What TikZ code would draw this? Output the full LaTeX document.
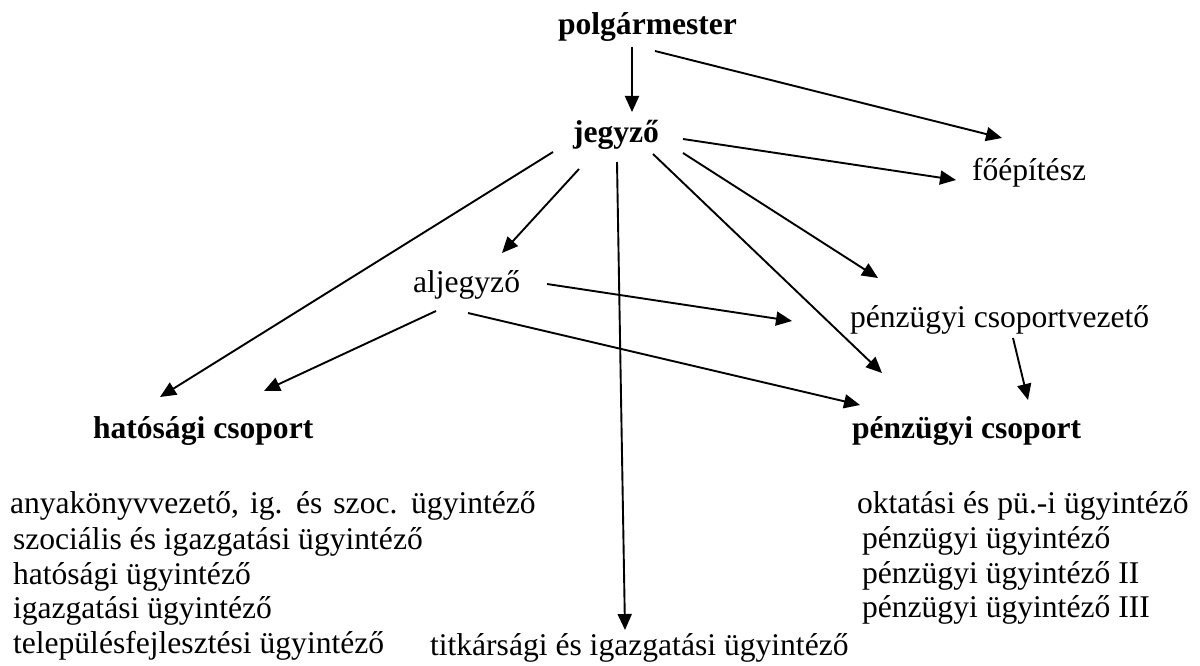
\documentclass[tikz,border=0pt]{standalone}
\usepackage{fontspec}
\setmainfont{Liberation Serif}
\usetikzlibrary{arrows.meta,calc}
\tikzset{
  lbl/.style={anchor=base west,inner sep=0pt,outer sep=0pt,font=\fontsize{31.6}{38}\selectfont},
  blbl/.style={lbl,font=\fontsize{31.6}{38}\selectfont\bfseries},
  arr/.style={line width=1.9pt,-{Triangle[length=16pt,width=14pt]}},
}
\begin{document}
\begin{tikzpicture}[x=1pt,y=-1pt]
\useasboundingbox (0,0) rectangle (1200,666);
% nodes
\node[blbl] (pm) at (558,35) {polgármester};
\node[blbl] (jg) at (573,143) {jegyző};
\node[lbl] (fe) at (972,181) {főépítész};
\node[lbl] (al) at (413,292) {aljegyző};
\node[lbl] (pcv) at (850,327) {pénzügyi csoportvezető};
\node[blbl] (hcs) at (93,438) {hatósági csoport};
\node[blbl] (pcs) at (852,438) {pénzügyi csoport};
% left list
\node[lbl] (l1) at (10,513) {\spaceskip=11pt anyakönyvvezető, ig. és szoc. ügyintéző};
\node[lbl] (l2) at (13,549) {szociális és igazgatási ügyintéző};
\node[lbl] (l3) at (13,584) {hatósági ügyintéző};
\node[lbl] (l4) at (13,618) {igazgatási ügyintéző};
\node[lbl] (l5) at (13,653) {településfejlesztési ügyintéző};
% right list
\node[lbl] (r1) at (857,513) {oktatási és pü.-i ügyintéző};
\node[lbl] (r2) at (862,548) {pénzügyi ügyintéző};
\node[lbl] (r3) at (862,583) {pénzügyi ügyintéző II};
\node[lbl] (r4) at (862,617) {pénzügyi ügyintéző III};
% bottom middle
\node[lbl] (tk) at (430,655) {titkársági és igazgatási ügyintéző};
% connectors
\draw[arr] ($(pm.base west)+(74,12)$) -- ($(jg.base west)+(59,-31)$);
\draw[arr] ($(pm.base west)+(97,16)$) -- ($(fe.base west)+(30,-43)$);
\draw[arr] ($(jg.base west)+(110,-4)$) -- ($(fe.base west)+(-16,-1)$);
\draw[arr] ($(jg.base west)+(-20,9)$) -- ($(hcs.base west)+(67,-41)$);
\draw[arr] ($(jg.base west)+(6,26)$) -- ($(al.base west)+(89,-39)$);
\draw[arr] ($(jg.base west)+(44,19)$) -- ($(tk.base west)+(195,-25)$);
\draw[arr] ($(jg.base west)+(80,11)$) -- ($(pcs.base west)+(30,-65)$);
\draw[arr] ($(jg.base west)+(110,10)$) -- ($(pcv.base west)+(28,-49)$);
\draw[arr] ($(al.base west)+(134,-8)$) -- ($(pcv.base west)+(-58,-6)$);
\draw[arr] ($(al.base west)+(23,19)$) -- ($(hcs.base west)+(171,-47)$);
\draw[arr] ($(al.base west)+(55,21)$) -- ($(pcs.base west)+(8,-33)$);
\draw[arr] ($(pcv.base west)+(163,11)$) -- ($(pcs.base west)+(176,-38)$);
\end{tikzpicture}
\end{document}
